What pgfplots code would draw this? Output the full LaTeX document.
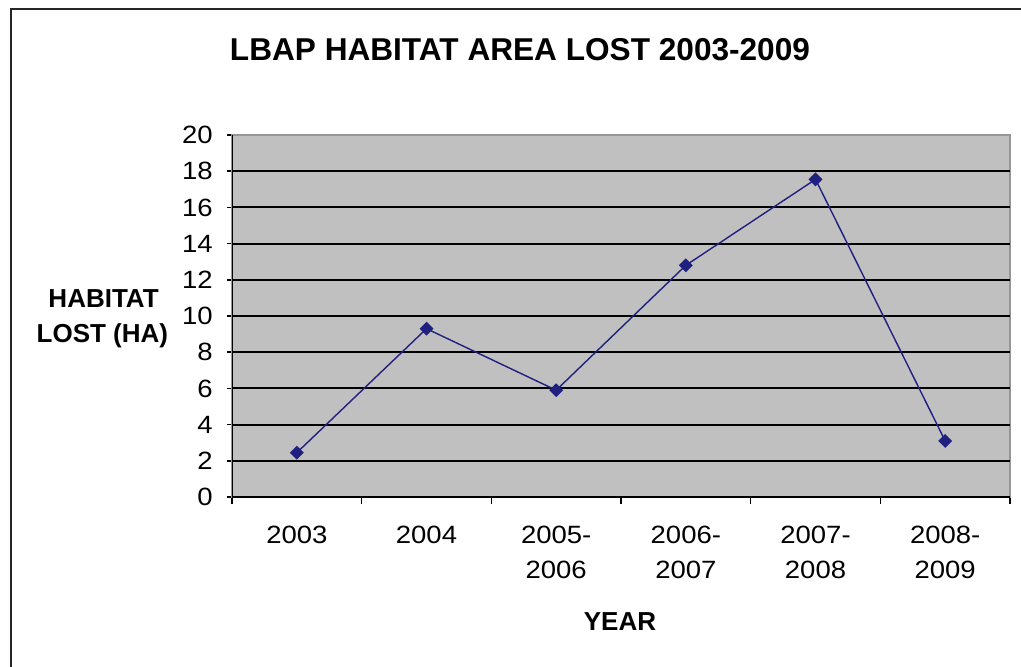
\documentclass[border=0pt]{standalone}
\usepackage{fontspec}
\setmainfont{Liberation Sans}
\newfontfamily\tickfont[FakeStretch=1.1]{Liberation Sans}
\usepackage{pgfplots}
\pgfplotsset{compat=1.18}

\definecolor{plotgray}{RGB}{192,192,192}
\definecolor{edgegray}{RGB}{150,150,150}
\definecolor{linenavy}{RGB}{32,32,128}

\begin{document}
\begin{tikzpicture}[x=1pt,y=1pt]
\useasboundingbox (0,0) rectangle (510.5,333);
\fill[white] (0,0) rectangle (510.5,333);
% chart frame (left and top edges)
\draw[line width=1pt, black!85] (5.5,-1) -- (5.5,328.5) -- (511.5,328.5);

\begin{axis}[
  at={(116pt,84.5pt)}, anchor=south west,
  scale only axis, width=389pt, height=181pt,
  xmin=-0.5, xmax=5.5, ymin=0, ymax=20,
  axis background/.style={fill=plotgray},
  axis line style={draw=edgegray, line width=0.6pt},
  tick pos=left,
  tick align=outside,
  xtick={0,...,5},
  xticklabels={2003,2004,{2005-\\2006},{2006-\\2007},{2007-\\2008},{2008-\\2009}},
  major x tick style={draw=none},
  minor xtick={-0.5,0.5,...,5.5},
  minor x tick style={black, line width=0.8pt},
  minor tick length=3.5pt,
  ytick={0,2,...,20},
  major tick length=2.5pt,
  y tick style={black, line width=0.8pt},
  extra y ticks={2,4,...,18},
  extra y tick labels={},
  extra y tick style={grid=major, major tick length=0pt},
  grid style={black, line width=1pt},
  /pgf/number format/assume math mode=true,
  ticklabel style={font=\tickfont\fontsize{12.5}{17.5}\selectfont},
  xticklabel style={align=center, anchor=north, inner sep=0pt, yshift=-12pt},
  yticklabel style={anchor=east, inner sep=0pt, xshift=-7pt},
]
\addplot[linenavy, line width=0.7pt, mark=square*, mark size=2.1pt,
  mark options={fill=linenavy, draw=linenavy, rotate=45}]
  coordinates {(0,2.45) (1,9.3) (2,5.9) (3,12.8) (4,17.55) (5,3.1)};
\draw[black, line width=0.8pt] (rel axis cs:0,1) -- (rel axis cs:0,0) -- (rel axis cs:1,0);
\end{axis}

% titles
\node[anchor=base, font=\fontsize{15.8}{19}\selectfont\bfseries] at (260,303) {LBAP HABITAT AREA LOST 2003-2009};
\node[anchor=base, font=\fontsize{13}{16}\selectfont\bfseries] at (51.8,179.5) {HABITAT};
\node[anchor=base, font=\fontsize{13}{16}\selectfont\bfseries] at (51.2,162) {LOST (HA)};
\node[anchor=base, font=\fontsize{13}{16}\selectfont\bfseries] at (310,18) {YEAR};
\end{tikzpicture}
\end{document}
